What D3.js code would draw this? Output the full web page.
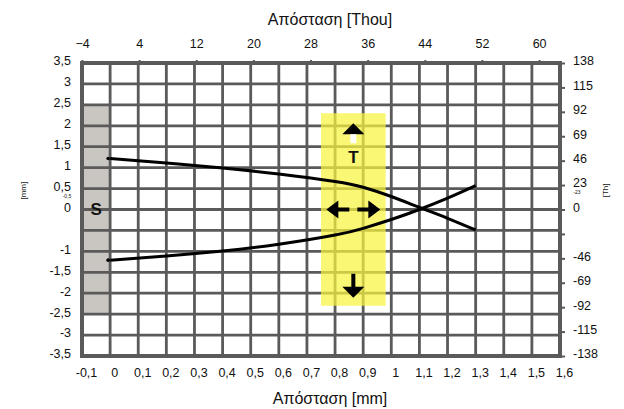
<!DOCTYPE html>
<html>
<head>
<meta charset="utf-8">
<script src="https://cdn.jsdelivr.net/npm/d3@7"></script>
<style>
  body { margin: 0; background: #fff; }
  text { font-family: "Liberation Sans", Arial, sans-serif; fill: #111; }
</style>
</head>
<body>
<script>
// Tick values / labels
const mmTicks = [-0.1, 0, 0.1, 0.2, 0.3, 0.4, 0.5, 0.6, 0.7, 0.8, 0.9, 1, 1.1, 1.2, 1.3, 1.4, 1.5, 1.6];
const yGrid = [3.5, 3, 2.5, 2, 1.5, 1, 0.5, 0, -0.5, -1, -1.5, -2, -2.5, -3, -3.5];
const leftLabels = [3.5, 3, 2.5, 2, 1.5, 1, 0.5, 0, -1, -1.5, -2, -2.5, -3, -3.5];
const thouTopTicks = [-4, 4, 12, 20, 28, 36, 44, 52, 60];
const thouRightTicks = [138, 115, 92, 69, 46, 23, 0, -23, -46, -69, -92, -115, -138];
const thouRightLabels = [138, 115, 92, 69, 46, 23, 0, -46, -69, -92, -115, -138];

// The two curves (x in mm, y in mm)
const curveX = [0, 0.2, 0.4, 0.6, 0.8, 0.9, 1.0, 1.1, 1.2, 1.3];
const upperY = [1.22, 1.11, 0.99, 0.85, 0.67, 0.53, 0.31, 0.05, -0.21, -0.49];
const lowerY = [-1.21, -1.11, -0.99, -0.83, -0.61, -0.45, -0.24, 0.0, 0.27, 0.57];

// Shaded zones (mm)
const stopX = [-0.1, 0], stopY = [-2.5, 2.5];
const bandX = [0.75, 0.98], bandY = [-2.3, 2.3];

const width = 624, height = 409;
const mLeft = 82, mRight = 560, mTop = 63, mBottom = 356;
const gridColor = "#5a5a5a";
const fmt = d => String(d).replace(".", ",");

const svg = d3.select("body").append("svg")
  .attr("width", width).attr("height", height);

const x = d3.scaleLinear().domain([-0.1, 1.6]).range([mLeft, mRight]);
const y = d3.scaleLinear().domain([-3.5, 3.5]).range([mBottom, mTop]);
const xThou = d3.scaleLinear().domain([-4, -4 + 1.7 * 39.37]).range([mLeft, mRight]);
const yThou = d3.scaleLinear().domain([-138, 138]).range([mBottom, mTop]);

// Grey stop zone
svg.append("rect")
  .attr("x", x(stopX[0])).attr("y", y(stopY[1]))
  .attr("width", x(stopX[1]) - x(stopX[0]))
  .attr("height", y(stopY[0]) - y(stopY[1]))
  .attr("fill", "#c9c5c1");

// Grid
svg.append("g").selectAll("line").data(mmTicks).join("line")
  .attr("x1", d => x(d)).attr("x2", d => x(d))
  .attr("y1", mTop).attr("y2", mBottom)
  .attr("stroke", gridColor).attr("stroke-width", 2.8);
svg.append("g").selectAll("line").data(yGrid).join("line")
  .attr("x1", mLeft).attr("x2", mRight)
  .attr("y1", d => y(d)).attr("y2", d => y(d))
  .attr("stroke", gridColor).attr("stroke-width", 2.8);

// Yellow band
svg.append("rect")
  .attr("x", x(bandX[0])).attr("y", y(bandY[1]))
  .attr("width", x(bandX[1]) - x(bandX[0]))
  .attr("height", y(bandY[0]) - y(bandY[1]))
  .attr("fill", "#f8f43e").attr("opacity", 0.72);

// Frame
svg.append("rect")
  .attr("x", mLeft).attr("y", mTop)
  .attr("width", mRight - mLeft).attr("height", mBottom - mTop)
  .attr("fill", "none").attr("stroke", gridColor).attr("stroke-width", 4);

// Curves
const line = d3.line().x(d => x(d[0])).y(d => y(d[1])).curve(d3.curveNatural);
[upperY, lowerY].forEach(ys => {
  const pts = curveX.map((cx, i) => [cx, ys[i]]);
  svg.append("path").datum(pts)
    .attr("d", line)
    .attr("fill", "none").attr("stroke", "#000").attr("stroke-width", 3);
  svg.append("circle")
    .attr("cx", x(0) - 2).attr("cy", y(ys[0])).attr("r", 1.8).attr("fill", "#000");
});

// Arrows in the band
const cx = x((bandX[0] + bandX[1]) / 2);
const bTop = y(bandY[1]), bBot = y(bandY[0]), mid = y(0);
const arrows = svg.append("g").attr("fill", "#000");
arrows.append("path")
  .attr("d", `M${cx},${bTop + 10}L${cx + 11},${bTop + 21}L${cx - 11},${bTop + 21}Z`);
arrows.append("rect")
  .attr("x", cx - 3).attr("y", bTop + 21).attr("width", 6).attr("height", 9)
  .attr("fill", "#fff");
arrows.append("text")
  .attr("x", cx).attr("y", bTop + 50)
  .attr("text-anchor", "middle").attr("font-size", 17).attr("font-weight", "bold")
  .text("T");
arrows.append("path")
  .attr("d", `M${cx - 27},${mid}L${cx - 15},${mid - 9}L${cx - 15},${mid + 9}Z` +
             `M${cx + 27},${mid}L${cx + 15},${mid - 9}L${cx + 15},${mid + 9}Z`);
arrows.append("rect").attr("x", cx - 16).attr("y", mid - 2).attr("width", 12).attr("height", 4);
arrows.append("rect").attr("x", cx + 4).attr("y", mid - 2).attr("width", 12).attr("height", 4);
arrows.append("rect").attr("x", cx - 2).attr("y", bBot - 32).attr("width", 4).attr("height", 14);
arrows.append("path")
  .attr("d", `M${cx},${bBot - 8}L${cx + 11},${bBot - 19}L${cx - 11},${bBot - 19}Z`);

// "S" label in the grey zone
svg.append("text")
  .attr("x", x((stopX[0] + stopX[1]) / 2)).attr("y", y(0) + 5)
  .attr("text-anchor", "middle").attr("font-size", 17).attr("font-weight", "bold")
  .text("S");

// Axes
function style(g) {
  g.select(".domain").remove();
  g.selectAll("text").attr("font-size", 12.5).attr("fill", "#111")
    .attr("font-family", "'Liberation Sans', Arial, sans-serif");
}

svg.append("g").attr("transform", `translate(0,${mBottom})`)
  .call(d3.axisBottom(x).tickValues(mmTicks).tickFormat(fmt).tickSize(0).tickPadding(12))
  .call(style)
  .selectAll("text").attr("dx", 4);

svg.append("g").attr("transform", `translate(${mLeft},0)`)
  .call(d3.axisLeft(y).tickValues(leftLabels).tickFormat(fmt).tickSize(0).tickPadding(11))
  .call(style)
  .selectAll("text").attr("dy", "0.15em");

svg.append("g").attr("transform", `translate(0,${mTop})`)
  .call(d3.axisTop(xThou).tickValues(thouTopTicks).tickSize(3).tickPadding(12))
  .call(style)
  .selectAll("line").attr("stroke", gridColor).attr("stroke-width", 2);

const rightAxis = svg.append("g").attr("transform", `translate(${mRight},0)`)
  .call(d3.axisRight(yThou).tickValues(thouRightTicks)
    .tickFormat(d => thouRightLabels.includes(d) ? d : "")
    .tickSize(5).tickPadding(8))
  .call(style);
rightAxis.selectAll("line").attr("stroke", gridColor).attr("stroke-width", 2);
rightAxis.selectAll("text").attr("dy", "0.15em");

// Squeezed tiny labels (-0,5 and -23)
svg.append("text").attr("x", 67).attr("y", y(0.5) + 9)
  .attr("text-anchor", "middle").attr("font-size", 5).text("-0,5");
svg.append("text").attr("x", 577).attr("y", yThou(23) + 9)
  .attr("text-anchor", "middle").attr("font-size", 5).text("-23");

// Tiny vertical axis titles
svg.append("text").attr("transform", `translate(26,${y(0.45)}) rotate(-90)`)
  .attr("text-anchor", "middle").attr("font-size", 8).text("[mm]");
svg.append("text").attr("transform", `translate(608,${yThou(18)}) rotate(-90)`)
  .attr("text-anchor", "middle").attr("font-size", 8).text("[Th]");

// Titles
svg.append("text").attr("x", 330).attr("y", 25)
  .attr("text-anchor", "middle").attr("font-size", 16).text("Απόσταση [Thou]");
svg.append("text").attr("x", 330).attr("y", 404)
  .attr("text-anchor", "middle").attr("font-size", 16).text("Απόσταση [mm]");
</script>
</body>
</html>
